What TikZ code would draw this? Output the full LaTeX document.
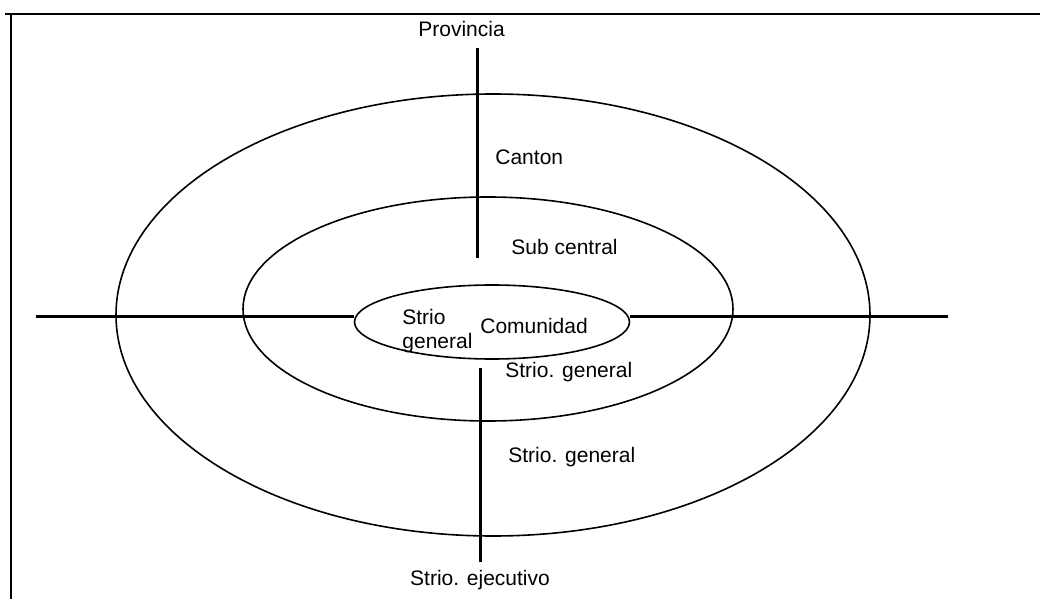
\documentclass[tikz,border=0pt]{standalone}
\usepackage{fontspec}
\setmainfont{Liberation Sans}
\usetikzlibrary{shapes.geometric}
\tikzset{
  ring/.style={ellipse, draw=black, line width=0.8pt, inner sep=0pt},
  axis/.style={line width=1.5pt},
  frameline/.style={line width=0.7pt},
  lbl/.style={font=\fontsize{10.5}{12}\selectfont, inner sep=0pt, anchor=west},
}

\begin{document}
\begin{tikzpicture}[x=0.5pt, y=-0.5pt]
  \useasboundingbox (0,0) rectangle (1040,599);
  % frame
  \coordinate (ftl) at (5,14); \coordinate (ftr) at (1040,14);
  \coordinate (fl1) at (11,14); \coordinate (fl2) at (11,599);
  \draw[frameline] (ftl) -- (ftr);
  \draw[frameline] (fl1) -- (fl2);
  % rings
  \node (outer) [ring, minimum width=377pt, minimum height=221pt] at (493,315) {};
  \node (middle) [ring, minimum width=245pt, minimum height=112pt] at (488,309) {};
  \node (inner) [ring, minimum width=137.5pt, minimum height=37pt] at (492,322) {};
  % axes
  \coordinate (wend) at (36,316); \coordinate (eend) at (948,316);
  \coordinate (ntop) at (477,48); \coordinate (nbot) at (477,258);
  \coordinate (stop) at (480,368); \coordinate (sbot) at (480,562);
  \draw[axis] (wend) -- (wend -| inner.west);
  \draw[axis] (eend -| inner.east) -- (eend);
  \draw[axis] (ntop) -- (nbot);
  \draw[axis] (stop) -- (sbot);
  % labels
  \node (prov) [lbl] at (418,29) {Provincia};
  \node (canton) [lbl] at (495,157) {Canton};
  \node (subc) [lbl] at (511,247) {Sub central};
  \node (strioa) [lbl, align=left] at (402,331) {Strio\\general};
  \node (comun) [lbl] at (480,326) {Comunidad};
  \node (striob) [lbl] at (505,372) {Strio. general};
  \node (strioc) [lbl] at (508,457) {Strio. general};
  \node (ejec) [lbl, anchor=center] at (480,580) {Strio. ejecutivo};
\end{tikzpicture}
\end{document}
